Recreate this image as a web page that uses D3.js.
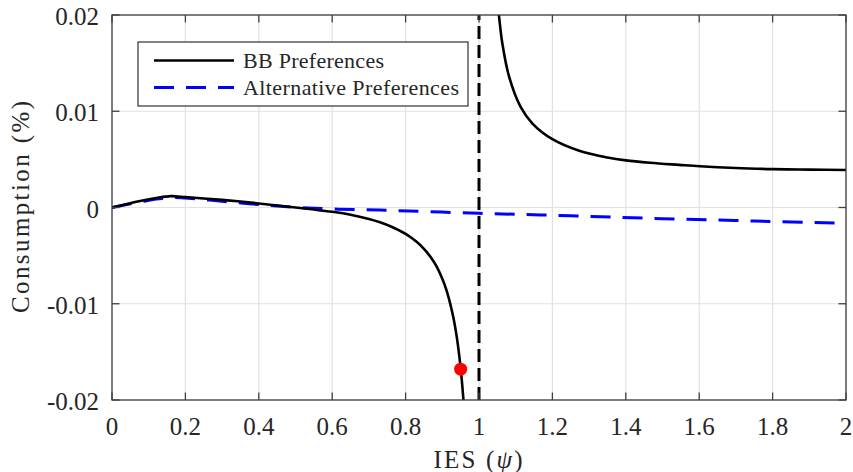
<!DOCTYPE html>
<html><head><meta charset="utf-8">
<script src="https://cdn.jsdelivr.net/npm/d3@7"></script>
<style>
html,body{margin:0;padding:0;background:#fff;}
svg{display:block;font-family:"Liberation Serif","Times New Roman",serif;}
</style></head>
<body><svg id="chart" width="853" height="472"></svg>
<script>
// ---- data ----
const bbLeftPsi = [0, 0.04, 0.08, 0.12, 0.16, 0.2, 0.25, 0.3, 0.35, 0.4, 0.45, 0.5, 0.55, 0.6, 0.65, 0.7, 0.73, 0.76, 0.8, 0.83, 0.85, 0.87, 0.884, 0.9, 0.912, 0.93, 0.94, 0.95, 0.957, 0.96];
const bbLeftVal = [0, 0.00036, 0.0007, 0.00098, 0.00118, 0.00108, 0.00094, 0.00079, 0.00062, 0.00042, 0.00021, 0.0, -0.00021, -0.00045, -0.00076, -0.0012, -0.00154, -0.00198, -0.00275, -0.00357, -0.0043, -0.00525, -0.0061, -0.0074, -0.00867, -0.0114, -0.0136, -0.0167, -0.0197, -0.0213];
const bbRightPsi = [1.05, 1.0545, 1.0635, 1.082, 1.113, 1.145, 1.2, 1.273, 1.35, 1.4, 1.466, 1.545, 1.602, 1.7, 1.8, 1.9, 2.0];
const bbRightVal = [0.0215, 0.0199, 0.01706, 0.01359, 0.01047, 0.00875, 0.0071, 0.0059, 0.0052, 0.0049, 0.00465, 0.00443, 0.00428, 0.0041, 0.00399, 0.00393, 0.0039];
const altPsi = [0, 0.04, 0.08, 0.12, 0.17, 0.2, 0.25, 0.3, 0.4, 0.5, 0.6, 0.73, 1.0, 1.25, 1.5, 1.75, 2.0];
const altVal = [0, 0.0003, 0.0006, 0.00088, 0.00105, 0.00098, 0.00082, 0.00065, 0.0003, 0.00002, -0.00015, -0.00027, -0.0006, -0.00086, -0.00116, -0.0014, -0.00164];
const markerPsi = [0.95];
const markerVal = [-0.0168];
const asymptotePsi = 1;
const xTicks = [0, 0.2, 0.4, 0.6, 0.8, 1, 1.2, 1.4, 1.6, 1.8, 2];
const xTickLabels = ["0", "0.2", "0.4", "0.6", "0.8", "1", "1.2", "1.4", "1.6", "1.8", "2"];
const yTicks = [-0.02, -0.01, 0, 0.01, 0.02];
const yTickLabels = ["-0.02", "-0.01", "0", "0.01", "0.02"];
const legendLabels = ["BB Preferences", "Alternative Preferences"];

// ---- layout ----
const L = 112, R = 846, T = 15, B = 400;
const svg = d3.select("#chart");
const x = d3.scaleLinear().domain([0, 2]).range([L, R]);
const y = d3.scaleLinear().domain([-0.02, 0.02]).range([B, T]);
const axisCol = "#404040", textCol = "#262626";

svg.append("rect").attr("x", 0).attr("y", 0).attr("width", 853).attr("height", 472).attr("fill", "#fff");

// grid
const grid = svg.append("g").attr("stroke", "#e1e1e1").attr("stroke-width", 1.2);
xTicks.forEach(t => grid.append("line").attr("x1", x(t)).attr("x2", x(t)).attr("y1", T).attr("y2", B));
yTicks.forEach(t => grid.append("line").attr("y1", y(t)).attr("y2", y(t)).attr("x1", L).attr("x2", R));

svg.append("defs").append("clipPath").attr("id", "clip")
  .append("rect").attr("x", L).attr("y", T).attr("width", R - L).attr("height", B - T);

const plot = svg.append("g").attr("clip-path", "url(#clip)");
const line = d3.line().x(d => x(d[0])).y(d => y(d[1])).curve(d3.curveCatmullRom.alpha(0.5));

// asymptote
plot.append("line").attr("x1", x(asymptotePsi)).attr("x2", x(asymptotePsi))
  .attr("y1", y(-0.02)).attr("y2", y(0.02))
  .attr("stroke", "#000").attr("stroke-width", 3).attr("stroke-dasharray", "13,6");

// alternative (blue dashed)
plot.append("path").datum(altPsi.map((p, i) => [p, altVal[i]]))
  .attr("d", line).attr("fill", "none").attr("stroke", "#0000ff").attr("stroke-width", 3)
  .attr("stroke-dasharray", "20,12");

// BB branches
plot.append("path").datum(bbLeftPsi.map((p, i) => [p, bbLeftVal[i]]))
  .attr("d", line).attr("fill", "none").attr("stroke", "#000").attr("stroke-width", 2.6);
plot.append("path").datum(bbRightPsi.map((p, i) => [p, bbRightVal[i]]))
  .attr("d", line).attr("fill", "none").attr("stroke", "#000").attr("stroke-width", 2.6);

// marker
plot.selectAll("circle.m").data(markerPsi).enter().append("circle")
  .attr("cx", d => x(d)).attr("cy", (d, i) => y(markerVal[i])).attr("r", 6.5).attr("fill", "#ff0000");

// axes box and ticks
const ax = svg.append("g").attr("stroke", axisCol).attr("stroke-width", 1.3).attr("fill", "none");
ax.append("rect").attr("x", L).attr("y", T).attr("width", R - L).attr("height", B - T);
const tl = 7.5;
xTicks.forEach(t => {
  ax.append("line").attr("x1", x(t)).attr("x2", x(t)).attr("y1", B).attr("y2", B - tl);
  ax.append("line").attr("x1", x(t)).attr("x2", x(t)).attr("y1", T).attr("y2", T + tl);
});
yTicks.forEach(t => {
  ax.append("line").attr("y1", y(t)).attr("y2", y(t)).attr("x1", L).attr("x2", L + tl);
  ax.append("line").attr("y1", y(t)).attr("y2", y(t)).attr("x1", R).attr("x2", R - tl);
});

// tick labels
svg.append("g").selectAll("text").data(xTicks).enter().append("text")
  .attr("x", d => x(d)).attr("y", 435).attr("text-anchor", "middle")
  .attr("font-size", 25).attr("fill", textCol).text((d, i) => xTickLabels[i]);
svg.append("g").selectAll("text").data(yTicks).enter().append("text")
  .attr("x", 99).attr("y", d => y(d) + 10).attr("text-anchor", "end")
  .attr("font-size", 25).attr("fill", textCol).text((d, i) => yTickLabels[i]);

// axis labels
const xl = svg.append("text").attr("x", 478).attr("y", 468).attr("text-anchor", "middle")
  .attr("font-size", 25).attr("fill", textCol)
  .attr("textLength", 89).attr("lengthAdjust", "spacing");
xl.append("tspan").text("IES (");
xl.append("tspan").attr("font-style", "italic").text("ψ");
xl.append("tspan").text(")");

svg.append("text").attr("transform", "translate(29,207) rotate(-90)")
  .attr("text-anchor", "middle").attr("font-size", 25).attr("fill", textCol)
  .attr("textLength", 212).attr("lengthAdjust", "spacing")
  .text("Consumption (%)");

// legend
const lg = svg.append("g");
lg.append("rect").attr("x", 138).attr("y", 42).attr("width", 330).attr("height", 64)
  .attr("fill", "#fff").attr("stroke", axisCol).attr("stroke-width", 1.3);
const legendStyles = [{c: "#000", w: 2.6, d: null}, {c: "#0000ff", w: 3, d: "20,12"}];
const legendWidths = [141, 216];
legendLabels.forEach((lab, i) => {
  const yy = 60.5 + i * 27;
  const l = lg.append("line").attr("x1", 154).attr("x2", 234).attr("y1", yy).attr("y2", yy)
    .attr("stroke", legendStyles[i].c).attr("stroke-width", legendStyles[i].w);
  if (legendStyles[i].d) l.attr("stroke-dasharray", legendStyles[i].d);
  lg.append("text").attr("x", 243).attr("y", yy + 7).attr("font-size", 22).attr("fill", textCol)
    .attr("textLength", legendWidths[i]).attr("lengthAdjust", "spacing")
    .text(lab);
});
</script></body></html>
